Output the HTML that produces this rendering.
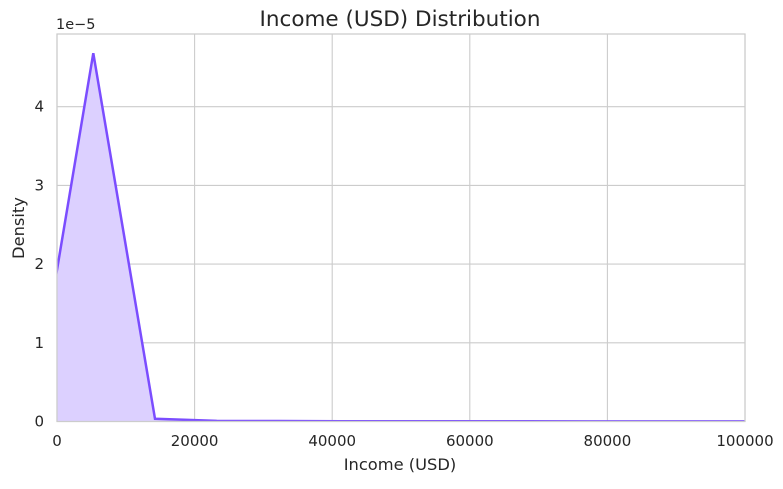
<!DOCTYPE html>
<html><head><meta charset="utf-8"><style>
body{margin:0;background:#fff;}
svg text{font-family:"DejaVu Sans","Liberation Sans",sans-serif;fill:#262626;}
</style></head><body>
<svg id="chart" width="783" height="484" viewBox="0 0 783 484" xmlns="http://www.w3.org/2000/svg">
<defs><clipPath id="clip"><rect x="57" y="34" width="688" height="387.5"/></clipPath></defs>
<rect width="783" height="484" fill="#fff"/>
<g id="grid"></g>
<g id="area" clip-path="url(#clip)"></g>
<rect x="57" y="34" width="688" height="387.5" fill="none" stroke="#cccccc" stroke-width="1.25"/>
<g id="ticks"></g>
<text x="400" y="26" text-anchor="middle" font-size="21.5">Income (USD) Distribution</text>
<text x="56" y="29" font-size="14.5">1e−5</text>
<text x="400" y="470" text-anchor="middle" font-size="16.3">Income (USD)</text>
<text x="24" y="228" text-anchor="middle" font-size="16.3" transform="rotate(-90 24 228)">Density</text>
</svg>
<script>
const xTicks=[0,20000,40000,60000,80000,100000];
const yTicks=[0,1,2,3,4];
const xs=[-3692,5276,14244,23212,32180,41148,50116,59084,68052,77020,85988,94956,103924];
const dens=[0.0,4.68,0.034,0.008,0.006,0.004,0.003,0.002,0.002,0.001,0.001,0.001,0.001];
const X=v=>57+v/100000*688;
const Y=v=>421.5-v*78.7;
const ns="http://www.w3.org/2000/svg";
const mk=(t,a,p)=>{const e=document.createElementNS(ns,t);for(const k in a)e.setAttribute(k,a[k]);p.appendChild(e);return e;};
const grid=document.getElementById('grid'),tk=document.getElementById('ticks'),ar=document.getElementById('area');
xTicks.forEach(v=>{
 const l=mk('line',{x1:X(v),x2:X(v),y1:34,y2:421.5,stroke:'#cccccc','stroke-width':1.1},grid);
 
 
 const t=mk('text',{x:X(v),y:446,'text-anchor':'middle','font-size':15},tk);
 t.textContent=v;
 
 
});
yTicks.forEach(v=>{
 const l=mk('line',{x1:57,x2:745,y1:Y(v),y2:Y(v),stroke:'#cccccc','stroke-width':1.1},grid);
 
 
 const t=mk('text',{x:44,y:Y(v)+5,'text-anchor':'end','font-size':15},tk);
 t.textContent=v;
 
 
});
const pts=xs.map((x,i)=>X(x).toFixed(1)+','+Y(dens[i]).toFixed(1));
const fill=mk('polygon',{points:X(xs[0])+','+Y(0)+' '+pts.join(' ')+' '+X(xs[xs.length-1])+','+Y(0),fill:'#dcd0ff',stroke:'none'},ar);


const line=mk('polyline',{points:pts.join(' '),fill:'none',stroke:'#7b4dff','stroke-width':2.5,'stroke-linejoin':'miter'},ar);


</script>
</body></html>
